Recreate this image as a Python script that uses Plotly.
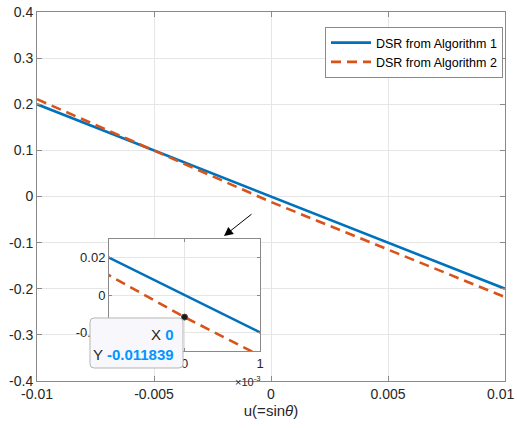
import plotly.graph_objects as go

# ---- data ----
u_vals = [-0.01, -0.005, 0.0, 0.005, 0.01]
dsr_alg1 = [0.2, 0.1, 0.0, -0.1, -0.2]
dsr_alg2 = [0.211, 0.100, -0.011839, -0.115, -0.218]
tip_x = [0.0]
tip_y = [-0.011839]

main_xticks = [-0.01, -0.005, 0, 0.005, 0.01]
main_xticktext = ["-0.01", "-0.005", "0", "0.005", "0.01"]
main_yticks = [0.4, 0.3, 0.2, 0.1, 0, -0.1, -0.2, -0.3, -0.4]
main_yticktext = ["0.4", "0.3", "0.2", "0.1", "0", "-0.1", "-0.2", "-0.3", "-0.4"]
inset_xticks = [-0.001, 0, 0.001]
inset_xticktext = ["-1", "0", "1"]
inset_yticks = [-0.02, 0, 0.02]
inset_yticktext = ["-0.02", "0", "0.02"]

BLUE = "#0072BD"
ORANGE = "#D95319"
AXC = "#8a8a8a"
TXT = "#262626"
GRID = "#e6e6e6"
FONT = "Arial, Liberation Sans, sans-serif"

W, H = 517, 428
L, R, T, B = 37, 12, 12, 47
PW, PH = W - L - R, H - T - B


def px(x):
    return (x - L) / PW


def py(y):
    return (H - B - y) / PH


fig = go.Figure()

for xa, ya, show in (("x", "y", True), ("x2", "y2", False)):
    fig.add_trace(go.Scatter(x=u_vals, y=dsr_alg1, mode="lines", name="DSR from Algorithm 1",
                             line=dict(color=BLUE, width=2.6), xaxis=xa, yaxis=ya, showlegend=show))
    fig.add_trace(go.Scatter(x=u_vals, y=dsr_alg2, mode="lines", name="DSR from Algorithm 2",
                             line=dict(color=ORANGE, width=2.6, dash="10px,6px"), xaxis=xa, yaxis=ya,
                             showlegend=show))

fig.add_trace(go.Scatter(x=tip_x, y=tip_y, mode="markers", xaxis="x2", yaxis="y2", showlegend=False,
                         marker=dict(color="#1a1a1a", size=6, line=dict(color="#444", width=1))))

common_axis = dict(showline=True, linecolor=AXC, linewidth=1, mirror="ticks", ticks="inside",
                   ticklen=5, tickcolor=AXC, showgrid=True, gridcolor=GRID, zeroline=False,
                   automargin=False, ticklabeloverflow="allow",
                   tickfont=dict(family=FONT, size=14, color=TXT))

inset_axis = dict(showline=True, linecolor=AXC, linewidth=1, mirror="ticks", ticks="inside",
                  ticklen=3, tickcolor=AXC, showgrid=True, gridcolor=GRID, zeroline=False,
                  automargin=False, ticklabeloverflow="allow",
                  tickfont=dict(family=FONT, size=13, color=TXT))

# last x tick label is drawn as an annotation so it stays inside the page
shown_xticktext = main_xticktext[:-1] + [""]

fig.update_layout(
    width=W, height=H,
    margin=dict(l=L, r=R, t=T, b=B),
    paper_bgcolor="white", plot_bgcolor="white",
    font=dict(family=FONT, color=TXT),
    xaxis=dict(common_axis, domain=[0, 1], range=[-0.01, 0.01], tickvals=main_xticks,
               ticktext=shown_xticktext,
               title=dict(text="u(=sin<i>θ</i>)", font=dict(family=FONT, size=15, color=TXT), standoff=2)),
    yaxis=dict(common_axis, domain=[0, 1], range=[-0.4, 0.4], tickvals=main_yticks,
               ticktext=main_yticktext),
    xaxis2=dict(inset_axis, domain=[px(109), px(260)], anchor="y2", range=[-0.001, 0.001],
                tickvals=inset_xticks, ticktext=inset_xticktext),
    yaxis2=dict(inset_axis, domain=[py(351), py(239)], anchor="x2", range=[-0.03, 0.03],
                tickvals=inset_yticks, ticktext=inset_yticktext),
    legend=dict(x=px(503), y=py(27), xanchor="right", yanchor="top", bgcolor="white",
                bordercolor=AXC, borderwidth=1, font=dict(family=FONT, size=12.5, color="#000"),
                tracegroupgap=0, itemwidth=40),
    showlegend=True,
)

fig.add_annotation(xref="paper", yref="paper", x=px(516), y=py(394), xanchor="right", yanchor="middle",
                   showarrow=False, text=main_xticktext[-1], font=dict(family=FONT, size=14, color=TXT))

# white background of the inset
fig.add_shape(type="rect", xref="x2 domain", yref="y2 domain", x0=0, x1=1, y0=0, y1=1,
              fillcolor="white", line=dict(width=0), layer="below")

# datatip rounded box
x0, x1, y0, y1 = px(90), px(183), py(368), py(318)
rx, ry = 4 / PW, 4 / PH
path = (f"M {x0+rx},{y1} L {x1-rx},{y1} Q {x1},{y1} {x1},{y1-ry} L {x1},{y0+ry} "
        f"Q {x1},{y0} {x1-rx},{y0} L {x0+rx},{y0} Q {x0},{y0} {x0},{y0+ry} L {x0},{y1-ry} "
        f"Q {x0},{y1} {x0+rx},{y1} Z")
fig.add_shape(type="path", xref="paper", yref="paper", path=path, fillcolor="#f8f8fc",
              line=dict(color="#b5b5b5", width=1), layer="above")

fig.add_annotation(xref="paper", yref="paper", x=px(176), y=py(344), xanchor="right", yanchor="middle",
                   align="right", showarrow=False,
                   text=("X <span style='color:#0096FF'><b>0</b></span><br>"
                         "Y <span style='color:#0096FF'><b>-0.011839</b></span>"),
                   font=dict(family=FONT, size=15, color=TXT))

# exponent label of inset x axis
fig.add_annotation(xref="paper", yref="paper", x=px(263), y=py(381), xanchor="right", yanchor="middle",
                   showarrow=False, text="×10<sup>-3</sup>", font=dict(family=FONT, size=11, color=TXT))

# arrow pointing to inset
fig.add_annotation(xref="paper", yref="paper", x=px(224), y=py(236), ax=29, ay=-23, text="",
                   showarrow=True, arrowhead=2, arrowsize=1.8, arrowwidth=1, arrowcolor="#000",
                   standoff=0)

fig.write_html("out.html")
